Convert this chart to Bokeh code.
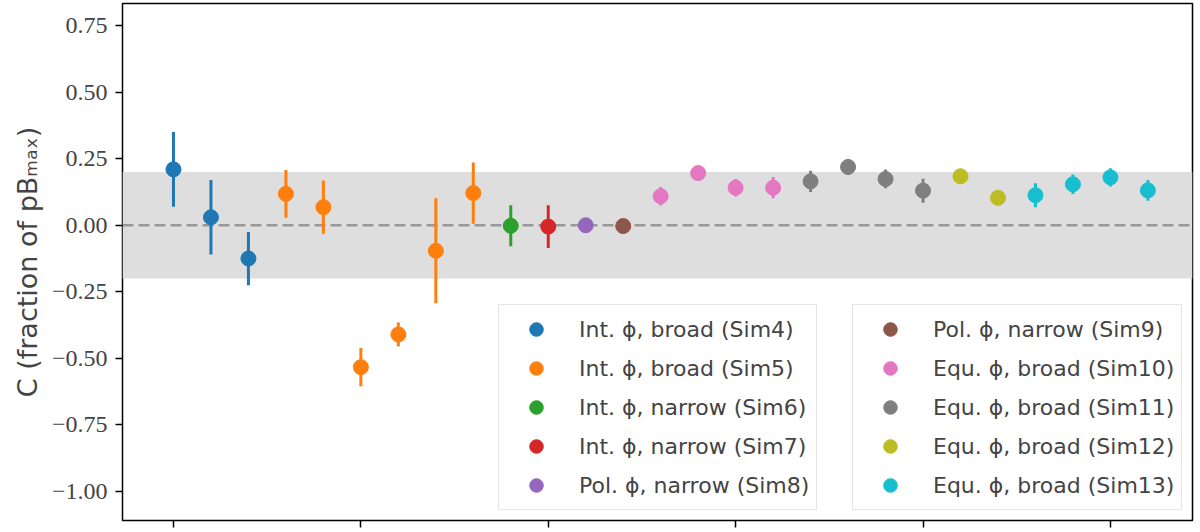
from bokeh.plotting import figure
from bokeh.models import BoxAnnotation, Span, Legend, LegendItem, FixedTicker, Range1d
from bokeh.embed import file_html
from bokeh.resources import INLINE

# simulation labels and colours (matplotlib tab10)
labels = ["Int. ϕ, broad (Sim4)", "Int. ϕ, broad (Sim5)", "Int. ϕ, narrow (Sim6)",
          "Int. ϕ, narrow (Sim7)", "Pol. ϕ, narrow (Sim8)", "Pol. ϕ, narrow (Sim9)",
          "Equ. ϕ, broad (Sim10)", "Equ. ϕ, broad (Sim11)", "Equ. ϕ, broad (Sim12)",
          "Equ. ϕ, broad (Sim13)"]
colors = ["#1f77b4", "#ff7f0e", "#2ca02c", "#d62728", "#9467bd",
          "#8c564b", "#e377c2", "#7f7f7f", "#bcbd22", "#17becf"]

# C values and errors
sim4_c = [0.21, 0.03, -0.125]
sim4_err = [0.14, 0.14, 0.10]
sim5_c = [0.118, 0.068, -0.533, -0.41, -0.096, 0.121]
sim5_err = [0.09, 0.10, 0.072, 0.045, 0.197, 0.115]
sim6_c = [-0.002]
sim6_err = [0.077]
sim7_c = [-0.005]
sim7_err = [0.08]
sim8_c = [0.0]
sim8_err = [0.01]
sim9_c = [-0.003]
sim9_err = [0.01]
sim10_c = [0.109, 0.196, 0.141, 0.141]
sim10_err = [0.035, 0.018, 0.033, 0.04]
sim11_c = [0.165, 0.219, 0.174, 0.130]
sim11_err = [0.04, 0.03, 0.035, 0.045]
sim12_c = [0.184, 0.103]
sim12_err = [0.018, 0.018]
sim13_c = [0.113, 0.154, 0.180, 0.131]
sim13_err = [0.045, 0.037, 0.034, 0.039]

all_c = [sim4_c, sim5_c, sim6_c, sim7_c, sim8_c, sim9_c, sim10_c, sim11_c, sim12_c, sim13_c]
all_err = [sim4_err, sim5_err, sim6_err, sim7_err, sim8_err, sim9_err,
           sim10_err, sim11_err, sim12_err, sim13_err]

y_ticks = [-1.0, -0.75, -0.5, -0.25, 0.0, 0.25, 0.5, 0.75]
y_tick_labels = ["−1.00", "−0.75", "−0.50", "−0.25", "0.00", "0.25", "0.50", "0.75"]
x_ticks = [0, 5, 10, 15, 20, 25]

p = figure(width=1200, height=532, output_backend="svg", toolbar_location=None,
           x_range=Range1d(-1.36, 27.19), y_range=Range1d(-1.109, 0.833),
           min_border_left=122, min_border_right=8, min_border_top=3, min_border_bottom=12)
p.grid.visible = False
p.outline_line_color = "black"
p.outline_line_width = 1.5

# shaded band and zero line
band = BoxAnnotation(bottom=-0.2, top=0.2, fill_color="#dedede", fill_alpha=1.0,
                     line_color=None, level="underlay")
p.add_layout(band)
zero = Span(location=0, dimension="width", line_color="#999999", line_width=2.5,
            line_dash="11 5", level="underlay")
p.add_layout(zero)

items = []
x0 = 0
for lab, col, cs, errs in zip(labels, colors, all_c, all_err):
    xs = list(range(x0, x0 + len(cs)))
    x0 += len(cs)
    lo = [c - e for c, e in zip(cs, errs)]
    hi = [c + e for c, e in zip(cs, errs)]
    p.segment(xs, lo, xs, hi, line_color=col, line_width=3)
    r = p.scatter(xs, cs, size=15, fill_color=col, line_color=col)
    items.append(LegendItem(label=lab, renderers=[r]))

font = "DejaVu Sans"
for i, loc in enumerate([(376, 10), (730, 10)]):
    leg = Legend(items=items[i * 5:(i + 1) * 5], location=loc, margin=0, padding=7,
                 spacing=5, glyph_width=60, glyph_height=34, label_height=34,
                 label_standoff=13, label_text_font=font, label_text_font_size="22px",
                 border_line_color="#cccccc", border_line_width=1,
                 background_fill_color="white", background_fill_alpha=0.8)
    p.add_layout(leg)

p.yaxis.ticker = FixedTicker(ticks=y_ticks)
p.yaxis.major_label_overrides = dict(zip(y_ticks, y_tick_labels))
p.yaxis.major_label_text_font = "Liberation Serif"
p.yaxis.major_label_text_font_size = "24px"
p.yaxis.major_label_standoff = 8
p.yaxis.axis_label = "C (fraction of pBₘₐₓ)"
p.yaxis.axis_label_text_font = font
p.yaxis.axis_label_text_font_style = "normal"
p.yaxis.axis_label_text_font_size = "27px"
p.yaxis.axis_label_standoff = 6

p.xaxis.ticker = FixedTicker(ticks=x_ticks)
p.xaxis.major_label_overrides = {t: "" for t in x_ticks}
p.xaxis.major_label_text_font_size = "0px"
p.xaxis.major_label_standoff = 0

for ax in [p.xaxis[0], p.yaxis[0]]:
    ax.axis_line_color = None
    ax.major_tick_out = 7
    ax.major_tick_in = 0
    ax.minor_tick_out = 0
    ax.minor_tick_in = 0
    ax.major_tick_line_width = 1.5

open("out.html", "w").write(file_html(p, INLINE))
